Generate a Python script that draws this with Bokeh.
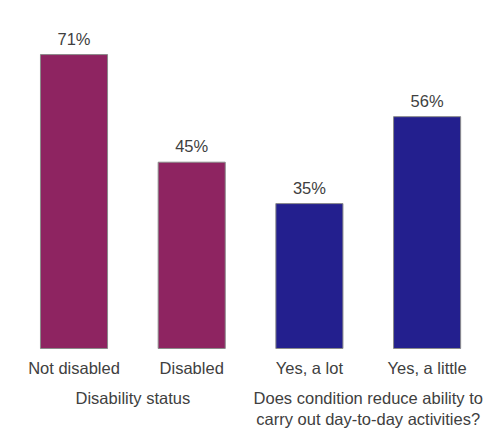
from bokeh.plotting import figure
from bokeh.models import ColumnDataSource, Range1d
from bokeh.core.properties import value
from bokeh.embed import file_html
from bokeh.resources import INLINE

# data
categories = ["Not disabled", "Disabled", "Yes, a lot", "Yes, a little"]
percent = [71, 45, 35, 56]
bar_colors = ["#8e2461", "#8e2461", "#231f8e", "#231f8e"]
groups = ["Disability status",
          "Does condition reduce ability to\ncarry out day-to-day activities?"]
group_members = [[0, 1], [2, 3]]

xs = list(range(len(categories)))
source = ColumnDataSource(data=dict(
    x=xs, top=percent, color=bar_colors,
    label=[f"{v}%" for v in percent],
    cat=categories,
))

p = figure(width=484, height=430, output_backend="svg", toolbar_location=None,
           x_range=Range1d(-0.6245, 3.4877), y_range=Range1d(-19.81, 84.06),
           min_border=0, outline_line_color=None)
p.axis.visible = False
p.grid.visible = False

p.vbar(x="x", top="top", bottom=0, width=0.57, fill_color="color",
       line_color="#8a8a8a", line_width=1, source=source)

font = value("Liberation Sans")
fsize = "16.5px"
# value labels above bars
p.text(x="x", y="top", text="label", source=source, text_font=font,
       text_font_size=fsize, text_color="#404040", text_align="center",
       text_baseline="bottom", y_offset=-7)

# category labels
p.text(x="x", y=0, text="cat", source=source, text_font=font,
       text_font_size=fsize, text_color="#404040", text_align="center",
       text_baseline="top", y_offset=11)

# group labels
gx = [sum(m) / len(m) for m in group_members]
p.text(x=gx, y=[0] * len(gx), text=groups, text_font=font,
       text_font_size=fsize, text_color="#404040", text_align="center",
       text_baseline="top", y_offset=41, text_line_height=1.12)

open("out.html", "w").write(file_html(p, INLINE))
